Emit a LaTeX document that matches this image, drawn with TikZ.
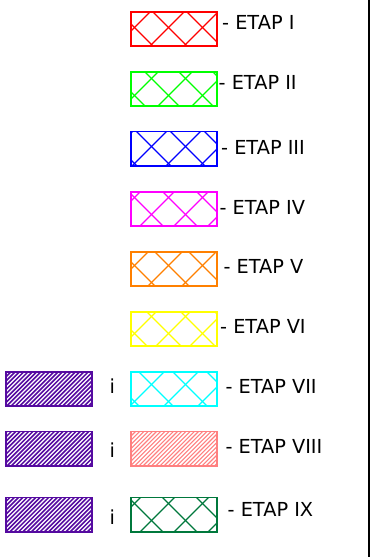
\documentclass[tikz,border=0pt]{standalone}
\usepackage{fontspec}
\setmainfont{DejaVu Sans}
\definecolor{cRed}{RGB}{255,0,0}
\definecolor{cGreen}{RGB}{0,255,0}
\definecolor{cBlue}{RGB}{0,0,255}
\definecolor{cMag}{RGB}{255,0,255}
\definecolor{cOrange}{RGB}{255,128,0}
\definecolor{cYellow}{RGB}{255,255,0}
\definecolor{cCyan}{RGB}{0,255,255}
\definecolor{cSalmon}{RGB}{255,128,128}
\definecolor{cDkGreen}{RGB}{0,120,60}
\definecolor{cPurple}{RGB}{85,10,160}
\tikzset{
  boxline/.style={line width=1.2pt},
  hatchline/.style={line width=1.15pt},
  lbl/.style={anchor=base west, inner sep=0pt, font=\fontsize{19.3}{23}\selectfont},
}
% cross hatch anchored to the page: x-y = 5 + 34k, x+y = 26 + 34k
\newcommand\xhatchbox[5]{%
  \begin{scope}
    \clip (#1,#2) rectangle (#3,#4);
    \pgfmathtruncatemacro\hka{floor((#1-#4-5)/34)-1}
    \pgfmathtruncatemacro\hkb{ceil((#3-#2-5)/34)+1}
    \foreach \kk in {\hka,...,\hkb}{
      \pgfmathsetmacro\hcc{5+34*\kk}
      \draw[#5,hatchline] ({#2-5+\hcc},{#2-5}) -- ({#4+5+\hcc},{#4+5});
    }
    \pgfmathtruncatemacro\hda{floor((#1+#2-26)/34)-1}
    \pgfmathtruncatemacro\hdb{ceil((#3+#4-26)/34)+1}
    \foreach \kk in {\hda,...,\hdb}{
      \pgfmathsetmacro\hdd{26+34*\kk}
      \draw[#5,hatchline] ({\hdd-#2+5},{#2-5}) -- ({\hdd-#4-5},{#4+5});
    }
  \end{scope}
  \draw[#5,boxline] (#1,#2) rectangle (#3,#4);
}
% single hatch "///": x+y = const, period #6, width #7
\newcommand\shatchbox[7]{%
  \begin{scope}
    \clip (#1,#2) rectangle (#3,#4);
    \pgfmathtruncatemacro\hda{floor((#1+#2)/#6)-1}
    \pgfmathtruncatemacro\hdb{ceil((#3+#4)/#6)+1}
    \foreach \kk in {\hda,...,\hdb}{
      \pgfmathsetmacro\hdd{#6*\kk}
      \draw[#5,line width=#7] ({\hdd-#2+5},{#2-5}) -- ({\hdd-#4-5},{#4+5});
    }
  \end{scope}
  \draw[#5,boxline] (#1,#2) rectangle (#3,#4);
}
\begin{document}
\begin{tikzpicture}[x=1pt,y=-1pt]
\useasboundingbox (0,0) rectangle (382,557);
% right border line
\coordinate (vt) at (369,0);
\coordinate (vb) at (369,557);
\draw[line width=1.4pt] (vt) -- (vb);
% cross hatched legend boxes
\xhatchbox{131}{12}{217}{46}{cRed}
\xhatchbox{131}{72}{217}{106}{cGreen}
\xhatchbox{131}{131.5}{217}{166}{cBlue}
\xhatchbox{131}{192}{217}{226}{cMag}
\xhatchbox{131}{252}{217}{286}{cOrange}
\xhatchbox{131}{312}{217}{346}{cYellow}
\xhatchbox{131}{372}{217}{406}{cCyan}
\shatchbox{131}{431.5}{217}{466}{cSalmon}{4.2}{1.1pt}
\xhatchbox{131}{497.5}{217}{532}{cDkGreen}
% purple single hatched boxes
\shatchbox{6}{372}{92}{406}{cPurple}{4.3}{1.5pt}
\shatchbox{6}{431.5}{92}{466}{cPurple}{4.3}{1.5pt}
\shatchbox{6}{497.5}{92}{532}{cPurple}{4.3}{1.5pt}
% labels
\node[lbl] (e1) at (222,29) {- ETAP I};
\node[lbl] (e2) at (218.5,89.3) {- ETAP II};
\node[lbl] (e3) at (221,154.3) {- ETAP III};
\node[lbl] (e4) at (219.3,214) {- ETAP IV};
\node[lbl] (e5) at (223.3,273) {- ETAP V};
\node[lbl] (e6) at (220,333) {- ETAP VI};
\node[lbl] (e7) at (225.3,393) {- ETAP VII};
\node[lbl] (e8) at (225.3,453) {- ETAP VIII};
\node[lbl] (e9) at (227.5,516.7) {- ETAP IX};
\node[lbl] (i1) at (109.5,393) {i};
\node[lbl] (i2) at (109.5,457) {i};
\node[lbl] (i3) at (109.5,524) {i};
\end{tikzpicture}
\end{document}
